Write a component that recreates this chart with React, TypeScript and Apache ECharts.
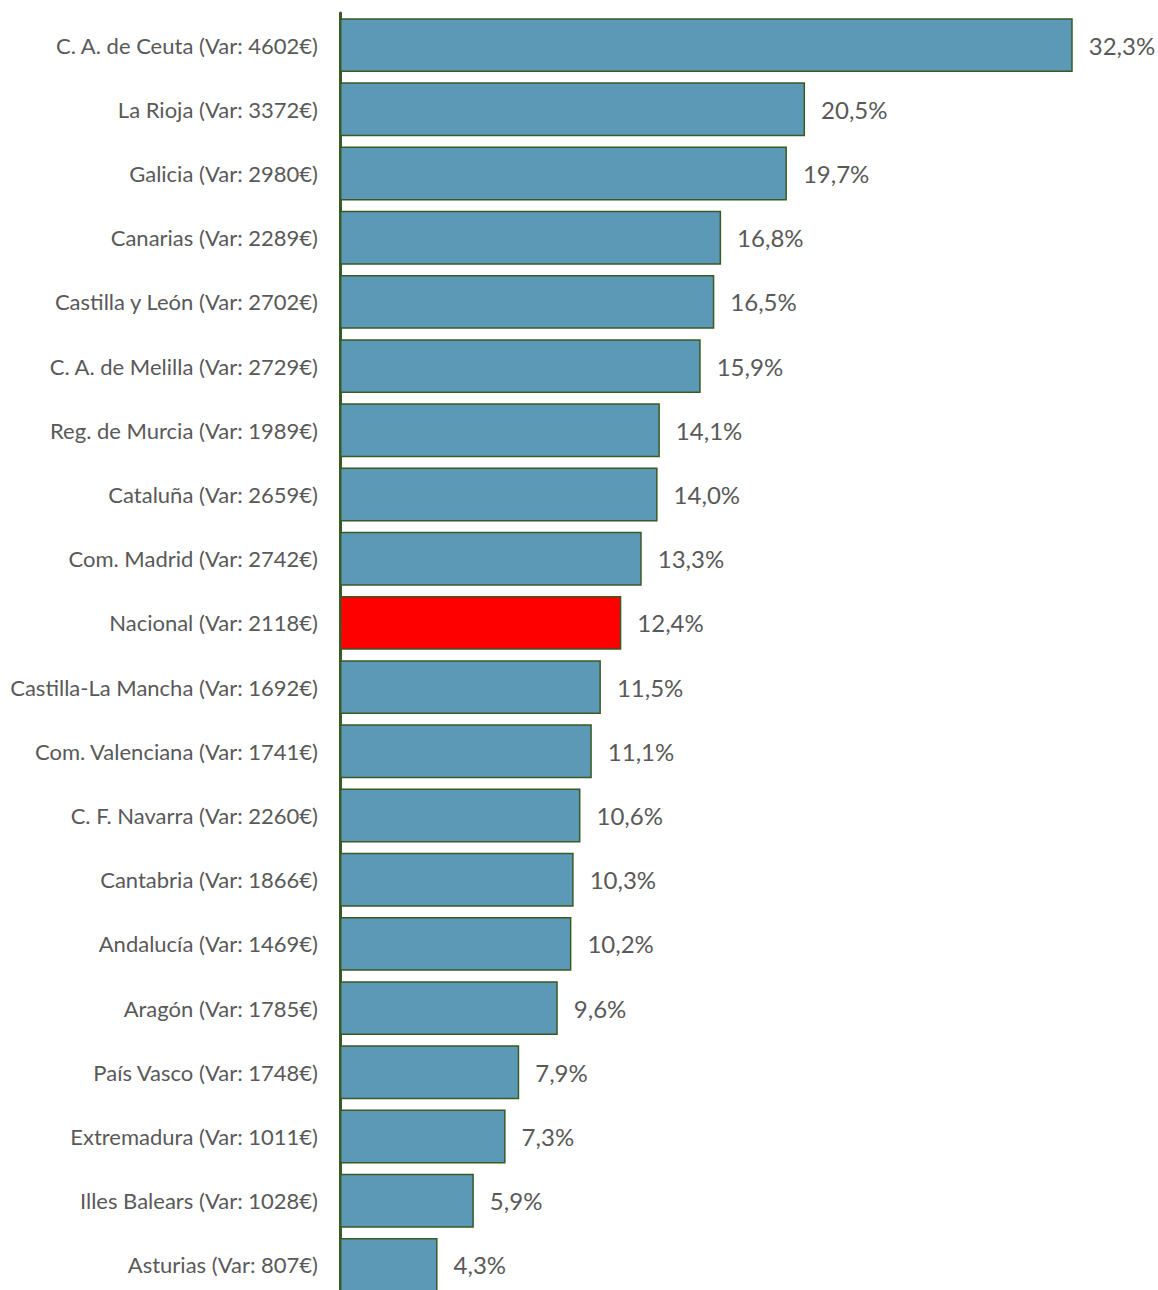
import React, { useEffect, useRef } from "react";
import * as echarts from "echarts";

const regions = [
  "C. A. de Ceuta",
  "La Rioja",
  "Galicia",
  "Canarias",
  "Castilla y León",
  "C. A. de Melilla",
  "Reg. de Murcia",
  "Cataluña",
  "Com. Madrid",
  "Nacional",
  "Castilla-La Mancha",
  "Com. Valenciana",
  "C. F. Navarra",
  "Cantabria",
  "Andalucía",
  "Aragón",
  "País Vasco",
  "Extremadura",
  "Illes Balears",
  "Asturias",
];
const variations = [4602, 3372, 2980, 2289, 2702, 2729, 1989, 2659, 2742, 2118, 1692, 1741, 2260, 1866, 1469, 1785, 1748, 1011, 1028, 807];
const percents = [32.3, 20.5, 19.7, 16.8, 16.5, 15.9, 14.1, 14.0, 13.3, 12.4, 11.5, 11.1, 10.6, 10.3, 10.2, 9.6, 7.9, 7.3, 5.9, 4.3];
const highlight = "Nacional";

const categories = regions.map((r, i) => `${r} (Var: ${variations[i]}€)`);

export default function App() {
  const ref = useRef<HTMLDivElement>(null);
  useEffect(() => {
    if (!ref.current) return;
    const chart = echarts.init(ref.current, null, { renderer: "svg" });
    const font = "Lato, 'Open Sans', sans-serif";
    chart.setOption({
      animation: false,
      grid: { left: 340, right: 24, top: 13, height: 1284, containLabel: false, outerBoundsMode: "none" },
      xAxis: {
        type: "value",
        min: 0,
        max: 35,
        show: false,
      },
      yAxis: {
        type: "category",
        inverse: true,
        data: categories,
        axisLine: { show: true, lineStyle: { color: "#3A5A24", width: 3 } },
        axisTick: { show: false },
        axisLabel: { color: "#595959", fontSize: 22, fontFamily: font, margin: 22 },
        splitLine: { show: false },
      },
      series: [
        {
          type: "bar",
          barCategoryGap: "16%",
          data: percents.map((v, i) => ({
            value: v,
            itemStyle: { color: regions[i] === highlight ? "#FF0000" : "#5B99B6" },
          })),
          itemStyle: { borderColor: "#3A5A24", borderWidth: 1.5 },
          label: {
            show: true,
            position: "right",
            distance: 16,
            color: "#595959",
            fontSize: 24,
            fontFamily: font,
            formatter: (p: any) => p.value.toFixed(1).replace(".", ",") + "%",
          },
        },
      ],
    });
    return () => chart.dispose();
  }, []);
  return <div ref={ref} style={{ position: "absolute", left: 0, top: 0, width: 1158, height: 1290 }} />;
}
